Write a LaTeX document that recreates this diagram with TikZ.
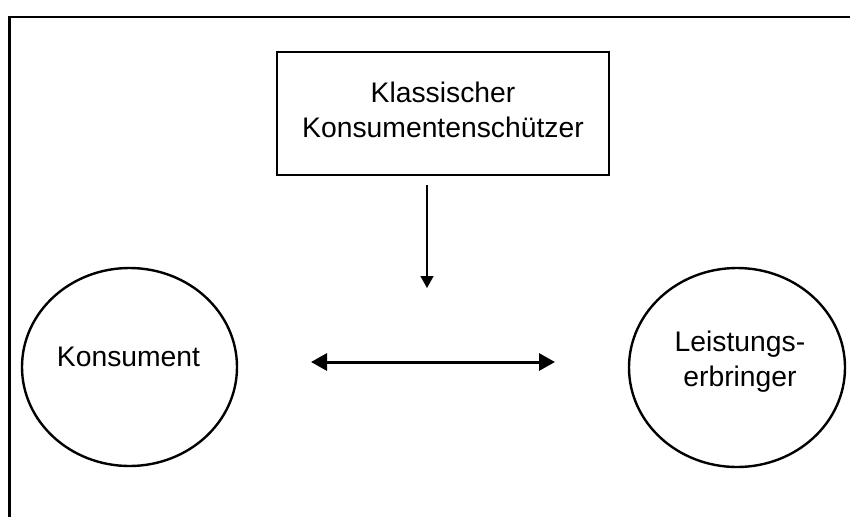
\documentclass[tikz,border=0pt]{standalone}
\usepackage{fontspec}
\setmainfont{Liberation Sans}
\usetikzlibrary{arrows.meta,shapes.geometric}
\begin{document}
\begin{tikzpicture}[x=1pt,y=-1pt,
  lbl/.style={font=\fontsize{28.3}{35}\selectfont, align=center, inner sep=0pt},
  circ/.style={draw, ellipse, line width=2.4pt, inner sep=0pt},
  actor/.style={draw, rectangle, line width=2pt, inner sep=0pt}]
\useasboundingbox (0,0) rectangle (850,517);
% open frame
\draw[line width=2.2pt] (9.5,517) -- (9.5,17) -- (850,17);
% box
\node[actor, minimum width=332pt, minimum height=123pt] (box) at (443,113.5) {};
\node[lbl] (boxtxt) at (443,110) {Klassischer\\Konsumentenschützer};
% circles
\node[circ, minimum width=215pt, minimum height=198pt] (kons) at (129.5,367) {};
\node[lbl] (konstxt) at (128.5,357) {Konsument};
\node[circ, minimum width=216pt, minimum height=199pt] (leist) at (737,367.5) {};
\node[lbl] (leisttxt) at (740,362) {Leistungs-\\erbringer};
% arrows
\coordinate (vs) at (427,185);
\coordinate (ve) at (427,288);
\draw[line width=1.5pt, -{Triangle[length=12pt,width=13pt]}] (vs) -- (ve);
\coordinate (hl) at (311,362);
\coordinate (hr) at (555,362);
\draw[line width=3pt, {Triangle[length=16pt,width=17pt]}-{Triangle[length=16pt,width=17pt]}] (hl) -- (hr);
\end{tikzpicture}
\end{document}
